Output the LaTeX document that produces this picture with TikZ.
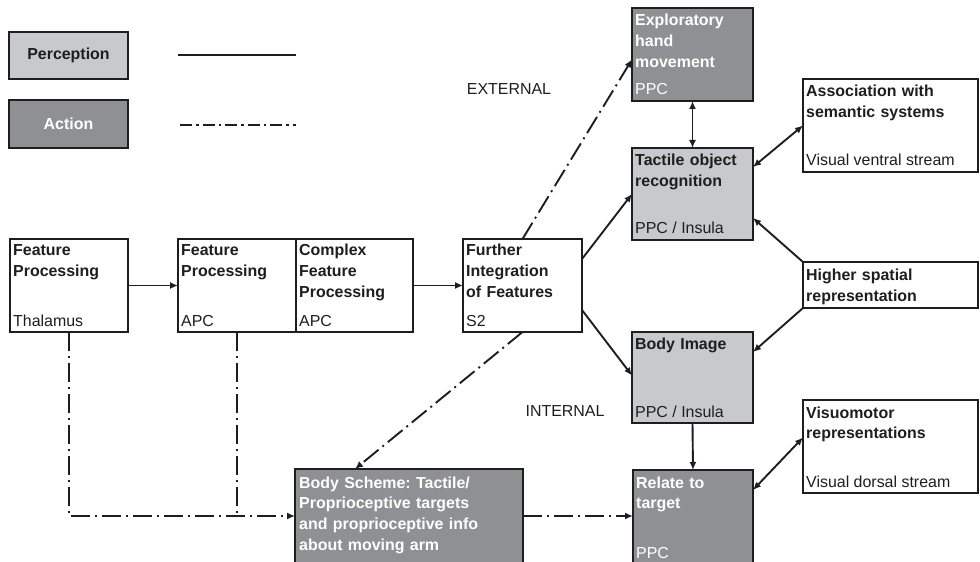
\documentclass[tikz,border=0pt]{standalone}
\usepackage{fontspec}
\setmainfont{Liberation Sans}
\usetikzlibrary{arrows.meta,calc}
\definecolor{percgray}{RGB}{200,201,204}
\definecolor{actgray}{RGB}{143,144,148}
\definecolor{ink}{RGB}{30,30,30}
\frenchspacing
\begin{document}
\begin{tikzpicture}[x=1bp,y=-1bp,
 font=\fontsize{16}{21}\selectfont,
 bx/.style={draw=ink, line width=2.2bp, inner sep=0pt, outer sep=0pt, anchor=north west},
 pbox/.style={bx, fill=percgray},
 abox/.style={bx, fill=actgray},
 wbox/.style={bx, fill=white},
 ttl/.style={anchor=base west, inner sep=0pt, text width=230bp, align=left, font=\fontsize{16}{21}\selectfont\bfseries, text=ink},
 lbl/.style={anchor=base west, inner sep=0pt, text=ink},
 wt/.style={text=white},
 conn/.style={draw=ink, line width=1.9bp, -{Latex[length=8bp,width=7bp]}},
 biconn/.style={draw=ink, line width=1.9bp, {Latex[length=8bp,width=7bp]}-{Latex[length=8bp,width=7bp]}},
 dd/.style={dash pattern=on 19bp off 5bp on 2bp off 5bp},
]
\fill[white] (0,0) rectangle (980,562);
\useasboundingbox (0,0) rectangle (980,562);

% legend
\node[pbox, minimum width=119bp, minimum height=47bp, font=\fontsize{16}{21}\selectfont\bfseries, text=ink] (perc) at (9,32) {Perception};
\node[abox, minimum width=119bp, minimum height=48bp, font=\fontsize{16}{21}\selectfont\bfseries, text=white] (act) at (9,100) {Action};
\coordinate (ls1) at (178,55);
\coordinate (ls2) at (296,55);
\draw[ink, line width=1.8bp] (ls1) -- (ls2);
\coordinate (ld1) at (180,125);
\coordinate (ld2) at (296,125);
\draw[ink, line width=2.4bp, dash pattern=on 12bp off 4bp on 2.5bp off 4bp] (ld1) -- (ld2);

% boxes
\node[wbox, minimum width=118bp, minimum height=93bp] (thal) at (10,239) {};
\node[wbox, minimum width=118bp, minimum height=93bp] (apc) at (178,239) {};
\node[wbox, minimum width=117bp, minimum height=93bp] (cfp) at (296,239) {};
\node[wbox, minimum width=119bp, minimum height=93bp] (fi) at (463,239) {};
\node[abox, minimum width=121bp, minimum height=93bp] (exp) at (632,8) {};
\node[pbox, minimum width=121bp, minimum height=92bp] (tor) at (632,148) {};
\node[wbox, minimum width=175bp, minimum height=93bp] (assoc) at (803,79) {};
\node[wbox, minimum width=175bp, minimum height=46bp] (hsr) at (803,262) {};
\node[pbox, minimum width=121bp, minimum height=91bp] (bim) at (632,332) {};
\node[wbox, minimum width=175bp, minimum height=93bp] (vis) at (803,400) {};
\node[abox, minimum width=120bp, minimum height=95bp] (rel) at (633,470) {};
\node[abox, minimum width=228bp, minimum height=96bp] (bs) at (295,469) {};

% texts
\node[ttl] (thalT) at ($(thal.north west)+(3,17)$) {Feature\\Processing};
\node[lbl] (thalL) at ($(thal.south west)+(3,-6)$) {Thalamus};
\node[ttl] (apcT) at ($(apc.north west)+(3,17)$) {Feature\\Processing};
\node[lbl] (apcL) at ($(apc.south west)+(3,-6)$) {APC};
\node[ttl] (cfpT) at ($(cfp.north west)+(3,17)$) {Complex\\Feature\\Processing};
\node[lbl] (cfpL) at ($(cfp.south west)+(3,-6)$) {APC};
\node[ttl] (fiT) at ($(fi.north west)+(3,17)$) {Further\\Integration\\of Features};
\node[lbl] (fiL) at ($(fi.south west)+(3,-6)$) {S2};
\node[ttl, wt] (expT) at ($(exp.north west)+(3,18)$) {Exploratory\\hand\\movement};
\node[lbl, wt] (expL) at ($(exp.south west)+(3,-6)$) {PPC};
\node[ttl] (torT) at ($(tor.north west)+(3,18)$) {Tactile object\\recognition};
\node[lbl] (torL) at ($(tor.south west)+(3,-6)$) {PPC / Insula};
\node[ttl] (assocT) at ($(assoc.north west)+(3,18)$) {Association with\\semantic systems};
\node[lbl] (assocL) at ($(assoc.south west)+(3,-6)$) {Visual ventral stream};
\node[ttl] (hsrT) at ($(hsr.north west)+(3,19)$) {Higher spatial\\representation};
\node[ttl] (bimT) at ($(bim.north west)+(3,18)$) {Body Image};
\node[lbl] (bimL) at ($(bim.south west)+(3,-6)$) {PPC / Insula};
\node[ttl] (visT) at ($(vis.north west)+(3,18)$) {Visuomotor\\representations};
\node[lbl] (visL) at ($(vis.south west)+(3,-6)$) {Visual dorsal stream};
\node[ttl, wt] (relT) at ($(rel.north west)+(3,18)$) {Relate to\\target};
\node[lbl, wt] (relL) at ($(rel.south west)+(3,-7)$) {PPC};
\node[ttl, wt] (bsT) at ($(bs.north west)+(4,19)$) {Body Scheme: Tactile/\\Proprioceptive targets\\and proprioceptive info\\about moving arm};
\node[text=ink, inner sep=0pt] (ext) at (509,89) {EXTERNAL};
\node[text=ink, inner sep=0pt] (int) at (565,411) {INTERNAL};

% connectors
\draw[conn] (thal.east) -- (apc.west);
\draw[conn] (cfp.east) -- (fi.west);
\draw[conn, dd] (fi.north) -- ($(exp.west)+(0,5)$);
\draw[conn, dd] (fi.south) -- ($(bs.north west)+(60,0)$);
\draw[conn] ($(fi.north east)+(0,20)$) -- (tor.west);
\draw[conn] ($(fi.south east)+(0,-22)$) -- ($(bim.west)+(0,-2)$);
\draw[biconn] (exp.south) -- (tor.north);
\draw[biconn] ($(tor.north east)+(0,19)$) -- (assoc.west);
\draw[conn] (hsr.north west) -- ($(tor.south east)+(0,-22)$);
\draw[conn] (hsr.south west) -- ($(bim.north east)+(0,20)$);
\draw[conn] (bim.south) -- (rel.north);
\draw[biconn] ($(rel.north east)+(0,20)$) -- ($(vis.west)+(0,-9)$);
\coordinate (bsin) at ($(bs.north west)+(0,47)$);
\coordinate (bsout) at ($(bs.north east)+(0,47)$);
\draw[conn, dd] (bsout) -- (rel.west |- bsin);
\draw[conn, dd] (thal.south) |- (bsin);
\draw[ink, line width=1.9bp, dd] (apc.south) -- (apc.south |- bsin);
\end{tikzpicture}
\end{document}
